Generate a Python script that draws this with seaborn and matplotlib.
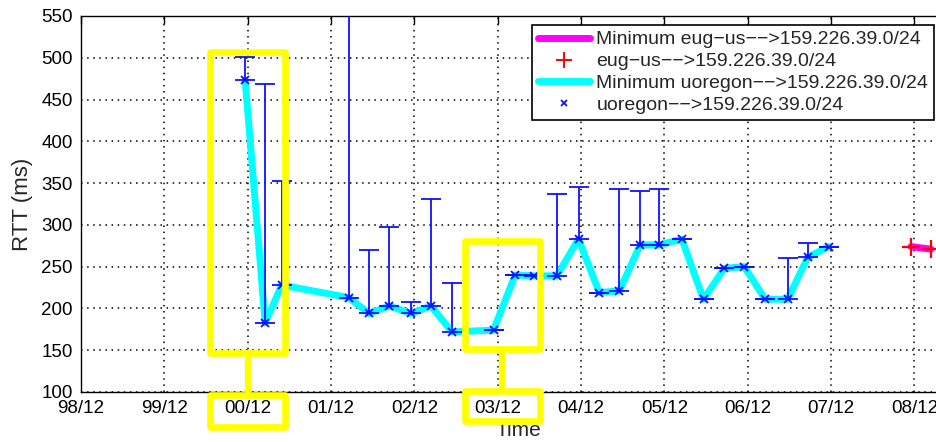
"""RTT over time from two vantage points towards 159.226.39.0/24."""

import matplotlib

matplotlib.use("Agg")
import matplotlib.pyplot as plt
import seaborn as sns
from matplotlib.lines import Line2D
from matplotlib.patches import Rectangle

# time axis in years since Dec 1998 (0 -> 98/12, 10 -> 08/12)
uoregon_t = [1.97, 2.21, 2.41, 3.21, 3.46, 3.70, 3.96, 4.20, 4.45, 4.95, 5.21, 5.43, 5.71,
             5.97, 6.22, 6.46, 6.71, 6.94, 7.21, 7.47, 7.72, 7.96, 8.21, 8.48, 8.72, 8.97]
uoregon_min = [473, 183, 228, 213, 194, 203, 194, 203, 172, 174, 240, 239, 239,
               283, 219, 221, 276, 276, 283, 211, 248, 250, 211, 211, 261, 274]
uoregon_max = [501, 469, 352, 600, 270, 297, 208, 331, 231, 174, 240, 240, 337,
               345, 219, 343, 341, 343, 283, 211, 248, 250, 211, 260, 278, 274]

eug_t = [9.96, 10.20]
eug_min = [274, 271]

tick_labels = ["98/12", "99/12", "00/12", "01/12", "02/12", "03/12",
               "04/12", "05/12", "06/12", "07/12", "08/12"]
y_ticks = [100, 150, 200, 250, 300, 350, 400, 450, 500, 550]

W, H = 937, 442

sns.set_style("white")
plt.rcParams["font.family"] = ["Liberation Sans", "DejaVu Sans"]

fig = plt.figure(figsize=(W / 100, H / 100), dpi=100)
ax = fig.add_axes([81 / W, 50 / H, 875 / W, 376 / H])

sns.lineplot(x=eug_t, y=eug_min, color="#ff00ff", linewidth=5, ax=ax, zorder=2)
ax.plot(eug_t, eug_min, linestyle="none", marker="+", color="red",
        markersize=13, markeredgewidth=1.6, zorder=3)

sns.lineplot(x=uoregon_t, y=uoregon_min, color="#00ffff", linewidth=5, ax=ax, zorder=2)
upper = [hi - lo for lo, hi in zip(uoregon_min, uoregon_max)]
ax.errorbar(uoregon_t, uoregon_min, yerr=[[0] * len(upper), upper], fmt="none",
            ecolor="#1010ff", elinewidth=1.3, capsize=7, capthick=1.3, zorder=3)
ax.plot(uoregon_t, uoregon_min, linestyle="none", marker="x", color="#1010ff",
        markersize=6, markeredgewidth=1.3, zorder=4)

ax.set_xlim(0, 10.5)
ax.set_ylim(100, 550)
ax.set_xticks(range(len(tick_labels)))
ax.set_xticklabels(tick_labels)
ax.set_yticks(y_ticks)
ax.tick_params(direction="in", length=6, width=1, top=True, right=True,
               labelsize=13.5, colors="black", pad=6)
for s in ax.spines.values():
    s.set_color("black")
    s.set_linewidth(1)
ax.grid(True, color="black", linestyle=(0, (1, 3)), linewidth=1.1)
ax.set_axisbelow(True)
ax.set_xlabel("Time", fontsize=15, labelpad=3)
ax.set_ylabel("RTT (ms)", fontsize=16, labelpad=6)

handles = [
    Line2D([], [], color="#ff00ff", linewidth=5),
    Line2D([], [], color="red", marker="+", linestyle="none", markersize=11, markeredgewidth=1.4),
    Line2D([], [], color="#00ffff", linewidth=5),
    Line2D([], [], color="#1010ff", marker="x", linestyle="none", markersize=5, markeredgewidth=1.3),
]
labels = [
    "Minimum eug\u2212us\u2212\u2212>159.226.39.0/24",
    "eug\u2212us\u2212\u2212>159.226.39.0/24",
    "Minimum uoregon\u2212\u2212>159.226.39.0/24",
    "uoregon\u2212\u2212>159.226.39.0/24",
]
leg = ax.legend(handles, labels, loc="upper right", bbox_to_anchor=(934 / W, 1 - 25 / H),
                bbox_transform=fig.transFigure, fontsize=14, frameon=True, fancybox=False,
                edgecolor="black", framealpha=1, handlelength=2.7, handletextpad=0.3,
                labelspacing=0.22, borderpad=0.3, borderaxespad=0)
leg.get_frame().set_linewidth(1.2)

# yellow highlight boxes drawn over the figure (pixel coords from top-left)
hl_rects = [(210, 52, 285, 353), (210, 395, 285, 427),
            (465, 241, 540, 349), (465, 391, 540, 421)]
hl_links = [(248, 353, 395), (502, 349, 391)]
for x0, y0, x1, y1 in hl_rects:
    fig.patches.append(Rectangle((x0 / W, 1 - y1 / H), (x1 - x0) / W, (y1 - y0) / H,
                                 transform=fig.transFigure, fill=False, edgecolor="#ffff00",
                                 linewidth=4.8, joinstyle="round", zorder=10))
for x, y0, y1 in hl_links:
    fig.lines.append(Line2D([x / W, x / W], [1 - y0 / H, 1 - y1 / H], transform=fig.transFigure,
                            color="#ffff00", linewidth=4.5, zorder=10))

fig.savefig("out.png", dpi=100)
